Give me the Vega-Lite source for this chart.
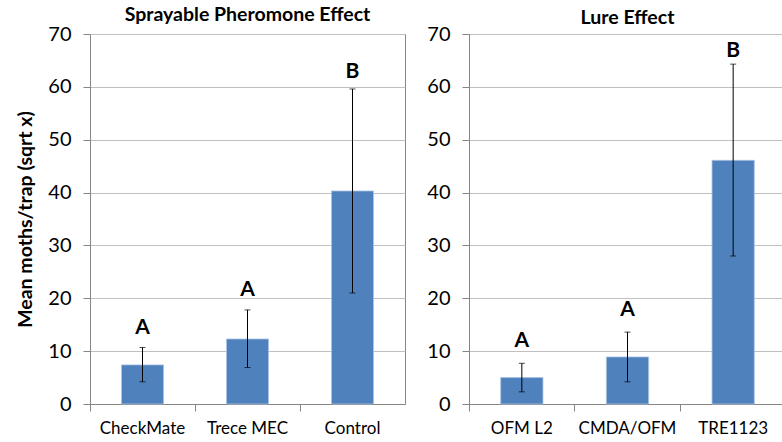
{
  "$schema": "https://vega.github.io/schema/vega-lite/v6.json",
  "padding": {"left": 15, "top": 4, "right": 0, "bottom": 0},
  "background": "white",
  "config": {
    "font": "Lato",
    "view": {"stroke": "#868686", "strokeWidth": 1},
    "axis": {
      "domainColor": "#868686",
      "tickColor": "#868686",
      "gridColor": "#c0c0c0",
      "labelColor": "#000000",
      "labelFont": "Lato",
      "titleFont": "Lato",
      "tickSize": 7
    },
    "title": {"font": "Lato", "fontWeight": "bold", "fontSize": 19.5, "color": "#000000"}
  },
  "datasets": {
    "spray": [
      {"treatment": "CheckMate", "mean": 7.4, "low": 4.2, "high": 10.7, "letter": "A", "letterY": 14.4},
      {"treatment": "Trece MEC", "mean": 12.3, "low": 6.9, "high": 17.8, "letter": "A", "letterY": 21.6},
      {"treatment": "Control", "mean": 40.3, "low": 21.0, "high": 59.6, "letter": "B", "letterY": 62.9}
    ],
    "lure": [
      {"treatment": "OFM L2", "mean": 5.0, "low": 2.3, "high": 7.7, "letter": "A", "letterY": 12.0},
      {"treatment": "CMDA/OFM", "mean": 8.9, "low": 4.2, "high": 13.6, "letter": "A", "letterY": 17.8},
      {"treatment": "TRE1123", "mean": 46.1, "low": 28.0, "high": 64.3, "letter": "B", "letterY": 66.8}
    ]
  },
  "spacing": 20,
  "hconcat": [
    {
      "title": {"text": "Sprayable Pheromone Effect", "offset": -1},
      "width": 315,
      "height": 370,
      "data": {"name": "spray"},
      "encoding": {
        "x": {
          "field": "treatment", "type": "nominal", "sort": null,
          "scale": {"paddingInner": 0, "paddingOuter": 0},
          "axis": {"title": null, "labelAngle": 0, "labelFontSize": 17, "bandPosition": 0, "labelPadding": 9, "grid": false}
        }
      },
      "layer": [
        {
          "mark": {"type": "bar", "color": "#4f81bd", "width": {"band": 0.4}, "stroke": "#a9c2e3", "strokeWidth": 0.8},
          "encoding": {
            "y": {
              "field": "mean", "type": "quantitative",
              "scale": {"domain": [0, 70], "nice": false},
              "axis": {
                "values": [0, 10, 20, 30, 40, 50, 60, 70],
                "title": "Mean moths/trap (sqrt x)",
                "titleFontSize": 19.5, "titleFontWeight": "bold", "titleColor": "#000000",
                "titlePadding": 12,
                "labelFontSize": 20, "labelPadding": 12
              }
            }
          }
        },
        {
          "mark": {"type": "rule", "color": "#000000", "strokeWidth": 1},
          "encoding": {"y": {"field": "low", "type": "quantitative"}, "y2": {"field": "high"}}
        },
        {
          "mark": {"type": "tick", "color": "#000000", "orient": "horizontal", "size": 6, "thickness": 1},
          "encoding": {"y": {"field": "low", "type": "quantitative"}}
        },
        {
          "mark": {"type": "tick", "color": "#000000", "orient": "horizontal", "size": 6, "thickness": 1},
          "encoding": {"y": {"field": "high", "type": "quantitative"}}
        },
        {
          "mark": {"type": "text", "fontSize": 21, "fontWeight": "bold", "color": "#000000", "baseline": "middle"},
          "encoding": {"y": {"field": "letterY", "type": "quantitative"}, "text": {"field": "letter"}}
        }
      ]
    },
    {
      "title": {"text": "Lure Effect", "offset": -4},
      "width": 317,
      "height": 370,
      "data": {"name": "lure"},
      "encoding": {
        "x": {
          "field": "treatment", "type": "nominal", "sort": null,
          "scale": {"paddingInner": 0, "paddingOuter": 0},
          "axis": {"title": null, "labelAngle": 0, "labelFontSize": 17, "bandPosition": 0, "labelPadding": 9, "grid": false}
        }
      },
      "layer": [
        {
          "mark": {"type": "bar", "color": "#4f81bd", "width": {"band": 0.4}, "stroke": "#a9c2e3", "strokeWidth": 0.8},
          "encoding": {
            "y": {
              "field": "mean", "type": "quantitative",
              "scale": {"domain": [0, 70], "nice": false},
              "axis": {
                "values": [0, 10, 20, 30, 40, 50, 60, 70],
                "title": null,
                "labelFontSize": 20, "labelPadding": 12
              }
            }
          }
        },
        {
          "mark": {"type": "rule", "color": "#000000", "strokeWidth": 1},
          "encoding": {"y": {"field": "low", "type": "quantitative"}, "y2": {"field": "high"}}
        },
        {
          "mark": {"type": "tick", "color": "#000000", "orient": "horizontal", "size": 6, "thickness": 1},
          "encoding": {"y": {"field": "low", "type": "quantitative"}}
        },
        {
          "mark": {"type": "tick", "color": "#000000", "orient": "horizontal", "size": 6, "thickness": 1},
          "encoding": {"y": {"field": "high", "type": "quantitative"}}
        },
        {
          "mark": {"type": "text", "fontSize": 21, "fontWeight": "bold", "color": "#000000", "baseline": "middle"},
          "encoding": {"y": {"field": "letterY", "type": "quantitative"}, "text": {"field": "letter"}}
        }
      ]
    }
  ]
}
